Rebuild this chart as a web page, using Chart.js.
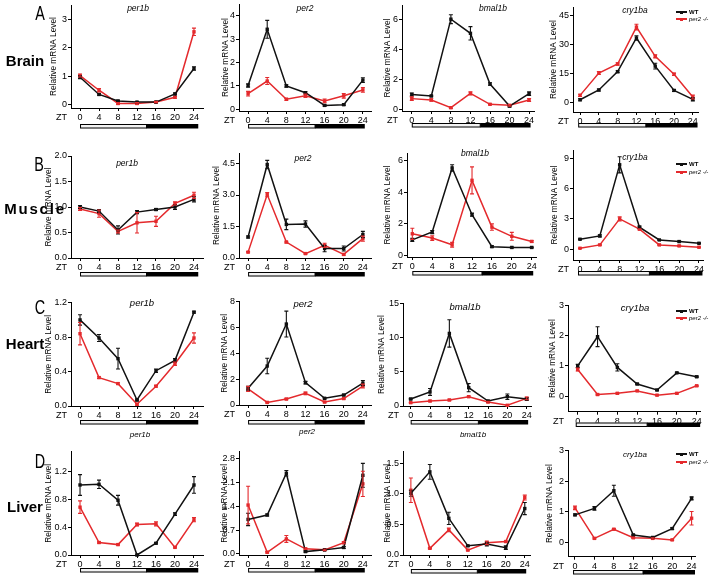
<!DOCTYPE html>
<html>
<head>
<meta charset="utf-8">
<script src="https://cdn.jsdelivr.net/npm/chart.js@4.4.0/dist/chart.umd.min.js"></script>
<style>
  html, body { margin: 0; padding: 0; background: #fff; }
  #fig { position: relative; width: 713px; height: 576px; overflow: hidden; font-family: "Liberation Sans", Arial, sans-serif; color: #000; }
  #fig canvas { position: absolute; }
  .lbl { position: absolute; white-space: nowrap; line-height: 1; transform: translate(-50%, -50%); }
  .tissue { font-weight: bold; font-size: 15px; }
  .letter { font-size: 20px; transform: translate(-50%, -50%) scaleX(0.72); }
  .gene { font-style: italic; }
  .leg { position: absolute; font-size: 6px; line-height: 1; white-space: nowrap; }
</style>
</head>
<body>
<div id="fig"></div>
<script>
// sampling times and light/dark schedule
const ZT = [0, 4, 8, 12, 16, 20, 24];
const DARK_START = 14;

// Brain
const brainPer1bWT = [0.96, 0.35, 0.12, 0.08, 0.08, 0.37, 1.27];
const brainPer1bWTErr = [0.05, 0.03, 0.02, 0.02, 0.02, 0.03, 0.06];
const brainPer1bKO = [1.02, 0.50, 0.03, 0.03, 0.08, 0.25, 2.57];
const brainPer1bKOErr = [0.05, 0.06, 0.03, 0.03, 0.02, 0.03, 0.13];
const brainPer2WT = [1.02, 3.42, 1.00, 0.71, 0.17, 0.20, 1.25];
const brainPer2WTErr = [0.07, 0.38, 0.05, 0.04, 0.03, 0.03, 0.10];
const brainPer2KO = [0.67, 1.21, 0.43, 0.58, 0.36, 0.58, 0.83];
const brainPer2KOErr = [0.10, 0.15, 0.04, 0.07, 0.08, 0.10, 0.10];
const brainBmal1bWT = [1.00, 0.90, 6.05, 5.10, 1.70, 0.22, 1.05];
const brainBmal1bWTErr = [0.10, 0.05, 0.30, 0.45, 0.08, 0.05, 0.12];
const brainBmal1bKO = [0.72, 0.63, 0.11, 1.07, 0.34, 0.27, 0.63];
const brainBmal1bKOErr = [0.12, 0.08, 0.05, 0.10, 0.04, 0.05, 0.10];
const brainCry1baWT = [1.2, 6.3, 15.9, 33.5, 18.8, 6.1, 1.4];
const brainCry1baWTErr = [0.5, 0.5, 0.5, 1.2, 1.5, 0.5, 0.8];
const brainCry1baKO = [3.5, 15.2, 19.9, 39.2, 23.9, 14.5, 2.6];
const brainCry1baKOErr = [0.6, 0.8, 0.6, 1.5, 0.8, 0.6, 1.0];

// Muscle
const musclePer1bWT = [1.00, 0.92, 0.55, 0.90, 0.95, 1.00, 1.15];
const musclePer1bWTErr = [0.03, 0.03, 0.08, 0.03, 0.02, 0.05, 0.05];
const musclePer1bKO = [0.96, 0.87, 0.52, 0.69, 0.72, 1.07, 1.23];
const musclePer1bKOErr = [0.03, 0.07, 0.03, 0.20, 0.10, 0.03, 0.06];
const musclePer2WT = [1.00, 4.45, 1.60, 1.62, 0.45, 0.45, 1.12];
const musclePer2WTErr = [0.05, 0.20, 0.25, 0.15, 0.15, 0.12, 0.15];
const musclePer2KO = [0.28, 3.02, 0.76, 0.21, 0.60, 0.17, 0.92];
const musclePer2KOErr = [0.03, 0.10, 0.04, 0.03, 0.10, 0.04, 0.12];
const muscleBmal1bWT = [1.00, 1.49, 5.52, 2.58, 0.57, 0.52, 0.52];
const muscleBmal1bWTErr = [0.10, 0.10, 0.20, 0.10, 0.05, 0.03, 0.03];
const muscleBmal1bKO = [1.38, 1.11, 0.69, 4.74, 1.80, 1.22, 0.90];
const muscleBmal1bKOErr = [0.35, 0.15, 0.15, 0.85, 0.20, 0.25, 0.05];
const muscleCry1baWT = [0.99, 1.32, 8.34, 2.18, 0.92, 0.76, 0.59];
const muscleCry1baWTErr = [0.05, 0.10, 0.80, 0.10, 0.05, 0.05, 0.05];
const muscleCry1baKO = [0.10, 0.43, 3.00, 1.98, 0.43, 0.33, 0.20];
const muscleCry1baKOErr = [0.03, 0.05, 0.20, 0.05, 0.05, 0.05, 0.05];

// Heart
const heartPer1bWT = [1.00, 0.79, 0.55, 0.07, 0.41, 0.53, 1.09];
const heartPer1bWTErr = [0.06, 0.04, 0.12, 0.01, 0.02, 0.02, 0.01];
const heartPer1bKO = [0.84, 0.33, 0.26, 0.02, 0.23, 0.49, 0.79];
const heartPer1bKOErr = [0.13, 0.01, 0.01, 0.01, 0.01, 0.02, 0.06];
const heartPer2WT = [1.29, 3.02, 6.27, 1.73, 0.52, 0.77, 1.70];
const heartPer2WTErr = [0.15, 0.60, 1.00, 0.10, 0.05, 0.05, 0.20];
const heartPer2KO = [1.24, 0.20, 0.46, 0.90, 0.23, 0.50, 1.47];
const heartPer2KOErr = [0.20, 0.05, 0.05, 0.10, 0.05, 0.05, 0.15];
const heartBmal1bWT = [1.02, 2.05, 10.6, 2.68, 0.73, 1.36, 1.02];
const heartBmal1bWTErr = [0.10, 0.50, 2.00, 0.60, 0.10, 0.40, 0.20];
const heartBmal1bKO = [0.49, 0.73, 0.88, 1.36, 0.58, 0.10, 1.12];
const heartBmal1bKOErr = [0.05, 0.10, 0.10, 0.10, 0.10, 0.05, 0.20];
const heartCry1baWT = [1.00, 1.97, 0.95, 0.40, 0.20, 0.77, 0.64];
const heartCry1baWTErr = [0.05, 0.33, 0.12, 0.02, 0.02, 0.02, 0.02];
const heartCry1baKO = [0.88, 0.05, 0.09, 0.17, 0.03, 0.09, 0.34];
const heartCry1baKOErr = [0.05, 0.02, 0.02, 0.02, 0.02, 0.02, 0.02];

// Liver
const liverPer1bWT = [1.01, 1.02, 0.79, 0.00, 0.17, 0.59, 1.01];
const liverPer1bWTErr = [0.15, 0.06, 0.07, 0.01, 0.01, 0.02, 0.12];
const liverPer1bKO = [0.69, 0.18, 0.15, 0.44, 0.45, 0.11, 0.51];
const liverPer1bKOErr = [0.09, 0.01, 0.01, 0.02, 0.03, 0.01, 0.03];
const liverPer2WT = [1.01, 1.14, 2.36, 0.07, 0.12, 0.19, 2.30];
const liverPer2WTErr = [0.18, 0.03, 0.08, 0.02, 0.02, 0.03, 0.35];
const liverPer2KO = [1.43, 0.05, 0.44, 0.15, 0.12, 0.33, 2.05];
const liverPer2KOErr = [0.55, 0.02, 0.10, 0.02, 0.02, 0.03, 0.37];
const liverBmal1bWT = [1.01, 1.36, 0.60, 0.15, 0.18, 0.12, 0.76];
const liverBmal1bWTErr = [0.05, 0.12, 0.10, 0.01, 0.03, 0.03, 0.10];
const liverBmal1bKO = [1.06, 0.11, 0.41, 0.08, 0.20, 0.22, 0.94];
const liverBmal1bKOErr = [0.20, 0.01, 0.03, 0.01, 0.03, 0.01, 0.04];
const liverCry1baWT = [0.90, 1.11, 1.69, 0.24, 0.16, 0.45, 1.44];
const liverCry1baWTErr = [0.03, 0.06, 0.18, 0.02, 0.02, 0.03, 0.05];
const liverCry1baKO = [1.13, 0.13, 0.43, 0.15, 0.13, 0.08, 0.79];
const liverCry1baKOErr = [0.06, 0.02, 0.02, 0.02, 0.02, 0.02, 0.22];

// y tick labels
const brainPer1bTicks = ['0', '1', '2', '3'];
const brainPer2Ticks = ['0', '1', '2', '3', '4'];
const brainBmal1bTicks = ['0', '2', '4', '6'];
const brainCry1baTicks = ['0', '15', '30', '45'];
const musclePer1bTicks = ['0.0', '0.5', '1.0', '1.5', '2.0'];
const musclePer2Ticks = ['0.0', '1.5', '3.0', '4.5'];
const muscleBmal1bTicks = ['0', '2', '4', '6'];
const muscleCry1baTicks = ['0', '3', '6', '9'];
const heartPer1bTicks = ['0.0', '0.4', '0.8', '1.2'];
const heartPer2Ticks = ['0', '2', '4', '6', '8'];
const heartBmal1bTicks = ['0', '5', '10', '15'];
const heartCry1baTicks = ['0', '1', '2', '3'];
const liverPer1bTicks = ['0.0', '0.4', '0.8', '1.2'];
const liverPer2Ticks = ['0.0', '0.7', '1.4', '2.1', '2.8'];
const liverBmal1bTicks = ['0.0', '0.5', '1.0', '1.5'];
const liverCry1baTicks = ['0', '1', '2', '3'];

const genes = ['per1b', 'per2', 'bmal1b', 'cry1ba'];
const tissues = ['Brain', 'Muscle', 'Heart', 'Liver'];

// series per panel, row by row: [wt, wtErr, ko, koErr, yTicks]
const series = [
  [brainPer1bWT, brainPer1bWTErr, brainPer1bKO, brainPer1bKOErr, brainPer1bTicks],
  [brainPer2WT, brainPer2WTErr, brainPer2KO, brainPer2KOErr, brainPer2Ticks],
  [brainBmal1bWT, brainBmal1bWTErr, brainBmal1bKO, brainBmal1bKOErr, brainBmal1bTicks],
  [brainCry1baWT, brainCry1baWTErr, brainCry1baKO, brainCry1baKOErr, brainCry1baTicks],
  [musclePer1bWT, musclePer1bWTErr, musclePer1bKO, musclePer1bKOErr, musclePer1bTicks],
  [musclePer2WT, musclePer2WTErr, musclePer2KO, musclePer2KOErr, musclePer2Ticks],
  [muscleBmal1bWT, muscleBmal1bWTErr, muscleBmal1bKO, muscleBmal1bKOErr, muscleBmal1bTicks],
  [muscleCry1baWT, muscleCry1baWTErr, muscleCry1baKO, muscleCry1baKOErr, muscleCry1baTicks],
  [heartPer1bWT, heartPer1bWTErr, heartPer1bKO, heartPer1bKOErr, heartPer1bTicks],
  [heartPer2WT, heartPer2WTErr, heartPer2KO, heartPer2KOErr, heartPer2Ticks],
  [heartBmal1bWT, heartBmal1bWTErr, heartBmal1bKO, heartBmal1bKOErr, heartBmal1bTicks],
  [heartCry1baWT, heartCry1baWTErr, heartCry1baKO, heartCry1baKOErr, heartCry1baTicks],
  [liverPer1bWT, liverPer1bWTErr, liverPer1bKO, liverPer1bKOErr, liverPer1bTicks],
  [liverPer2WT, liverPer2WTErr, liverPer2KO, liverPer2KOErr, liverPer2Ticks],
  [liverBmal1bWT, liverBmal1bWTErr, liverBmal1bKO, liverBmal1bKOErr, liverBmal1bTicks],
  [liverCry1baWT, liverCry1baWTErr, liverCry1baKO, liverCry1baKOErr, liverCry1baTicks]
];

// panel geometry (page px): left, right, top, bottom, xMin, xMax, yMin, yMax, titleGap, barTop, barStart, barEnd
const geo = [
  [71, 203, 5, 108, -1.9, 25.9, -0.13, 3.52, 17, 124, 0, 24.9],
  [239, 371, 4, 111, -1.9, 25.7, -0.07, 4.5, 13, 124, 0, 24.4],
  [402, 534, 5, 111, -2.0, 25.0, -0.11, 7.0, 14, 123, 0, 24.3],
  [573, 698, 7, 112, -1.5, 25.1, -5.2, 49.7, 19, 123, -0.4, 25],
  [71, 203, 156, 258, -1.9, 25.9, 0, 2.0, 22, 272, 0, 24.9],
  [239, 371, 153, 258, -1.9, 25.7, 0, 5.0, 22, 272, 0, 24.4],
  [407, 536, 153, 257, -1.07, 24.86, -0.08, 6.46, 19, 271, 0, 24.3],
  [573, 703, 150, 260, -1.41, 24.81, -1.06, 9.8, 18, 271, -0.4, 24.7],
  [71, 203, 302.7, 406, -1.9, 25.9, 0, 1.2, 22, 420, 0, 24.9],
  [239, 371, 301.7, 405, -1.9, 25.7, 0, 8, 14, 420, 0, 24.4],
  [403, 531, 303.3, 406, -1.59, 24.89, 0, 15, 21, 420, 0, 24.3],
  [568, 700, 305.7, 411.7, -1.96, 24.67, -0.52, 3.0, 15, 422.5, -0.4, 24.7],
  [71, 203, 451.7, 555, -1.9, 25.9, 0, 1.49, 22, 568, 0, 24.9],
  [239, 371, 451.7, 555, -1.9, 25.7, -0.03, 2.99, 14, 568, 0, 24.4],
  [403, 530, 451.7, 555, -1.66, 25.1, 0, 1.69, 15, 569, 0, 24.3],
  [568, 695, 450.7, 556.7, -1.44, 24.7, -0.47, 3.0, 18, 570, -0.4, 24.7]
];

// gene title centres and sizes, tissue labels, panel letters, legend rows
const titlePos = [
  [138, 8], [305, 8], [493, 8], [635, 10],
  [127, 163], [303, 158], [475, 153], [635, 157],
  [142, 303], [303, 304], [465, 307], [635, 308],
  [140, 435], [307, 432], [473, 435], [635, 455]
];
const titleSize = [8.5, 8.5, 9.5, 8];
const tissuePos = [[25, 60, 0], [35, 208, 1.8], [25, 343, 0], [25, 506, 0]];
const letterPos = [[39.5, 12.5, 'A'], [39, 164, 'B'], [39.5, 307, 'C'], [39.5, 460.5, 'D']];
const legendY = [[12, 19], [164, 172], [311, 318], [454, 462]];

const BLACK = '#111111';
const RED = '#e42a2d';
const FONT = '"Liberation Sans", Arial, sans-serif';
const TICK_SIZE = 9;

const errorBars = {
  id: 'errorBars',
  afterDatasetsDraw(chart) {
    const { ctx, scales: { x, y } } = chart;
    chart.data.datasets.forEach(ds => {
      ctx.save();
      ctx.strokeStyle = ds.borderColor;
      ctx.lineWidth = 1.1;
      ds.data.forEach((pt, i) => {
        const e = ds.errors[i];
        if (!e) return;
        const px = x.getPixelForValue(pt.x);
        const y1 = y.getPixelForValue(pt.y + e);
        const y2 = y.getPixelForValue(pt.y - e);
        ctx.beginPath();
        ctx.moveTo(px, y1); ctx.lineTo(px, y2);
        ctx.moveTo(px - 2, y1); ctx.lineTo(px + 2, y1);
        ctx.moveTo(px - 2, y2); ctx.lineTo(px + 2, y2);
        ctx.stroke();
      });
      ctx.restore();
    });
  }
};

// ZT label and light/dark bar under the x axis
const decor = {
  id: 'decor',
  afterDraw(chart, args, o) {
    const { ctx, scales: { x } } = chart;
    ctx.save();
    ctx.fillStyle = '#000';
    ctx.font = TICK_SIZE + 'px ' + FONT;
    ctx.textAlign = 'right';
    ctx.textBaseline = 'middle';
    ctx.fillText('ZT', x.left - 4, x.top + 3 + 1 + TICK_SIZE * 0.6);
    const x0 = x.getPixelForValue(o.barStart);
    const xd = x.getPixelForValue(DARK_START);
    const x1 = x.getPixelForValue(o.barEnd);
    const by = o.barTop;
    ctx.fillStyle = '#f3f3f3';
    ctx.fillRect(x0, by, xd - x0, 4.5);
    ctx.strokeStyle = '#000';
    ctx.lineWidth = 1;
    ctx.strokeRect(x0 + 0.5, by + 0.5, xd - x0 - 0.5, 3.5);
    ctx.fillStyle = '#000';
    ctx.fillRect(xd, by, x1 - xd, 4.5);
    ctx.restore();
  }
};

const fig = document.getElementById('fig');

function addLabel(text, x, y, cls, extra) {
  const d = document.createElement('div');
  d.className = 'lbl ' + cls;
  d.textContent = text;
  d.style.left = x + 'px';
  d.style.top = y + 'px';
  if (extra) Object.assign(d.style, extra);
  fig.appendChild(d);
}

function makePanel(idx) {
  const [wt, wtErr, ko, koErr, tickLabels] = series[idx];
  const [left, right, top, bottom, xMin, xMax, yMin, yMax, gap, barTop, barStart, barEnd] = geo[idx];
  const Hx = 17;
  const cvLeft = Math.floor(left - gap - 4.8);
  const cvTop = Math.floor(top - 7);
  const Wy = left - cvLeft;
  const padT = top - cvTop;
  const w = Math.ceil(right + 4 - cvLeft);
  const padR = w - (right - cvLeft);
  const need = Math.max(bottom + Hx, barTop + 6) + 2;
  const h = Math.ceil(need - cvTop);
  const padB = h - padT - (bottom - top) - Hx;

  const cv = document.createElement('canvas');
  cv.width = w; cv.height = h;
  cv.style.left = cvLeft + 'px';
  cv.style.top = cvTop + 'px';
  cv.style.width = w + 'px';
  cv.style.height = h + 'px';
  fig.appendChild(cv);

  const tickVals = tickLabels.map(Number);
  const mk = (label, vals, errs, color) => ({
    label,
    data: ZT.map((z, i) => ({ x: z, y: vals[i] })),
    errors: errs,
    borderColor: color,
    backgroundColor: color,
    borderWidth: 1.5,
    pointStyle: 'rect',
    pointRadius: 2.4,
    pointBorderWidth: 0,
    tension: 0,
    clip: false
  });

  new Chart(cv, {
    type: 'line',
    data: { datasets: [mk('WT', wt, wtErr, BLACK), mk('per2 -/-', ko, koErr, RED)] },
    options: {
      responsive: false,
      animation: false,
      devicePixelRatio: 1,
      layout: { padding: { top: padT, left: 0, right: padR, bottom: padB } },
      plugins: {
        legend: { display: false },
        tooltip: { enabled: false },
        decor: { barTop: barTop - cvTop, barStart, barEnd }
      },
      scales: {
        x: {
          type: 'linear', min: xMin, max: xMax,
          afterBuildTicks: s => { s.ticks = ZT.map(v => ({ value: v })); },
          afterFit: s => { s.height = Hx; },
          grid: { display: true, drawOnChartArea: false, drawTicks: true, tickLength: 3, color: '#000' },
          border: { display: true, color: '#000', width: 1 },
          ticks: { color: '#000', font: { size: TICK_SIZE, family: FONT }, padding: 1, autoSkip: false, maxRotation: 0, callback: v => String(v) }
        },
        y: {
          type: 'linear', min: yMin, max: yMax,
          afterBuildTicks: s => { s.ticks = tickVals.map(v => ({ value: v })); },
          afterFit: s => { s.width = Wy; },
          grid: { display: true, drawOnChartArea: false, drawTicks: true, tickLength: 3, color: '#000' },
          border: { display: true, color: '#000', width: 1 },
          ticks: { color: '#000', font: { size: TICK_SIZE, family: FONT }, padding: 1, autoSkip: false, callback: (v, i) => tickLabels[i] },
          title: { display: true, text: 'Relative mRNA Level', color: '#000', font: { size: 8.3, family: FONT }, padding: 0 }
        }
      }
    },
    plugins: [errorBars, decor]
  });

  const [tx, ty] = titlePos[idx];
  addLabel(genes[idx % 4], tx, ty, 'gene', { fontSize: titleSize[Math.floor(idx / 4)] + 'px' });
}

for (let i = 0; i < 16; i++) makePanel(i);

tissues.forEach((t, r) => {
  const [x, y, ls] = tissuePos[r];
  addLabel(t, x, y, 'tissue', { letterSpacing: ls + 'px' });
  const [lx, ly, letter] = letterPos[r];
  addLabel(letter, lx, ly, 'letter');
});

// legends in the cry1ba column
function legendRow(y, color, text, italic) {
  const line = document.createElement('div');
  Object.assign(line.style, { position: 'absolute', left: '676px', top: (y - 0.6) + 'px', width: '11px', height: '1.3px', background: color });
  fig.appendChild(line);
  const mark = document.createElement('div');
  Object.assign(mark.style, { position: 'absolute', left: '680px', top: (y - 1.5) + 'px', width: '3px', height: '3px', background: color });
  fig.appendChild(mark);
  const t = document.createElement('div');
  t.className = 'leg';
  t.textContent = text;
  Object.assign(t.style, { left: '689px', top: (y - 3) + 'px', fontStyle: italic ? 'italic' : 'normal', fontWeight: italic ? 'normal' : 'bold' });
  fig.appendChild(t);
}
legendY.forEach(([y1, y2]) => {
  legendRow(y1, BLACK, 'WT', false);
  legendRow(y2, RED, 'per2 -/-', true);
});
</script>
</body>
</html>
